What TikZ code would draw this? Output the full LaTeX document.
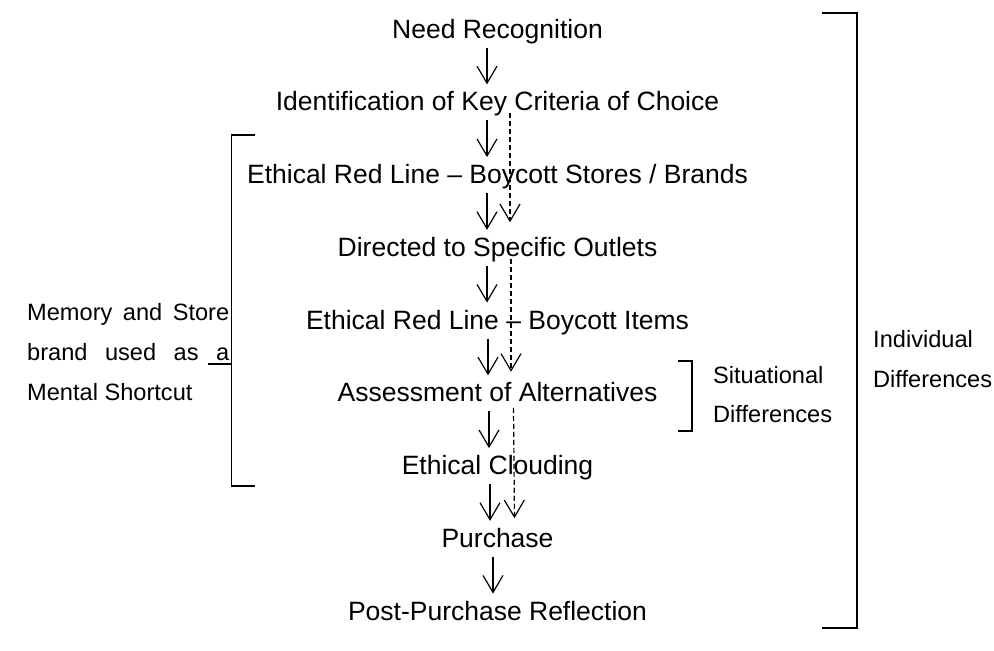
\documentclass[tikz,border=0pt]{standalone}
\usepackage{fontspec}
\setmainfont{Liberation Sans}
\usetikzlibrary{arrows.meta}
\begin{document}
\begin{tikzpicture}[x=1pt,y=-1pt,
  stage/.style={font=\fontsize{26.5}{30}\selectfont, inner sep=0pt, outer sep=0pt,
                anchor=base, text height=19.4pt, text depth=5.6pt},
  side/.style={font=\fontsize{23.6}{28}\selectfont, inner sep=0pt, anchor=base west},
  barb/.style={-{Straight Barb[length=17pt,width=20pt,line width=1.2pt]}},
  flow/.style={line width=1.2pt, barb, shorten <=4pt, shorten >=7pt},
  altflow/.style={line width=1.2pt, barb, dash pattern=on 5pt off 3pt},
  bracket/.style={line width=1.8pt}]
  \useasboundingbox (0,0) rectangle (994,651);

  % decision stages, one per row
  \node[stage] (n0) at (497.5,38)     {Need Recognition};
  \node[stage] (n1) at (497.5,110.75) {Identification of Key Criteria of Choice};
  \node[stage] (n2) at (497.5,183.5)  {Ethical Red Line – Boycott Stores / Brands};
  \node[stage] (n3) at (497.5,256.25) {Directed to Specific Outlets};
  \node[stage] (n4) at (497.5,329)    {Ethical Red Line – Boycott Items};
  \node[stage] (n5) at (497.5,401.75) {Assessment of Alternatives};
  \node[stage] (n6) at (497.5,474.5)  {Ethical Clouding};
  \node[stage] (n7) at (497.5,547.25) {Purchase};
  \node[stage] (n8) at (497.5,620)    {Post-Purchase Reflection};

  % main sequence
  \draw[flow] ([xshift=-10.5pt]n0.south) -- ([xshift=-10.5pt]n1.north);
  \draw[flow] ([xshift=-10.5pt]n1.south) -- ([xshift=-10.5pt]n2.north);
  \draw[flow] ([xshift=-10.5pt]n2.south) -- ([xshift=-10.5pt]n3.north);
  \draw[flow] ([xshift=-10.5pt]n3.south) -- ([xshift=-10.5pt]n4.north);
  \draw[flow] ([xshift=-9.5pt]n4.south) -- ([xshift=-9.5pt]n5.north);
  \draw[flow] ([xshift=-8.5pt]n5.south) -- ([xshift=-8.5pt]n6.north);
  \draw[flow] ([xshift=-7.5pt]n6.south) -- ([xshift=-7.5pt]n7.north);
  \draw[flow] ([xshift=-4.5pt]n7.south) -- ([xshift=-4.5pt]n8.north);

  % shortcut route
  \draw[altflow] ([shift={(12.5,2)}]n1.base) -- ([shift={(12.5,-34)}]n3.base);
  \draw[altflow] ([shift={(13.5,3)}]n3.base) -- ([shift={(13.5,-30)}]n5.base);
  \draw[altflow] ([shift={(16,6)}]n5.base) -- ([shift={(17,-29)}]n7.base);

  % memory / store brand bracket
  \draw[bracket] (255,135) -- (231.5,135) -- (231.5,486) -- (255,486);
  \coordinate (lbr) at (231.5,364);
  \node[side] (m1) at (27,320) {\makebox[202pt][s]{Memory and Store}};
  \node[side] (m2) at (27,360) {\makebox[202pt][s]{brand used as a}};
  \node[side] (m3) at (27,400) {Mental Shortcut};
  \draw[line width=1.3pt] (208,364) -- (lbr);

  % situational bracket
  \draw[bracket] (678,361) -- (692,361) -- (692,431) -- (678,431);
  \node[side] (s1) at (713,383) {Situational};
  \node[side] (s2) at (713,422) {Differences};

  % individual bracket
  \draw[bracket] (822,13) -- (857,13) -- (857,628) -- (822,628);
  \node[side] (i1) at (873,347) {Individual};
  \node[side] (i2) at (873,387) {Differences};
\end{tikzpicture}
\end{document}
